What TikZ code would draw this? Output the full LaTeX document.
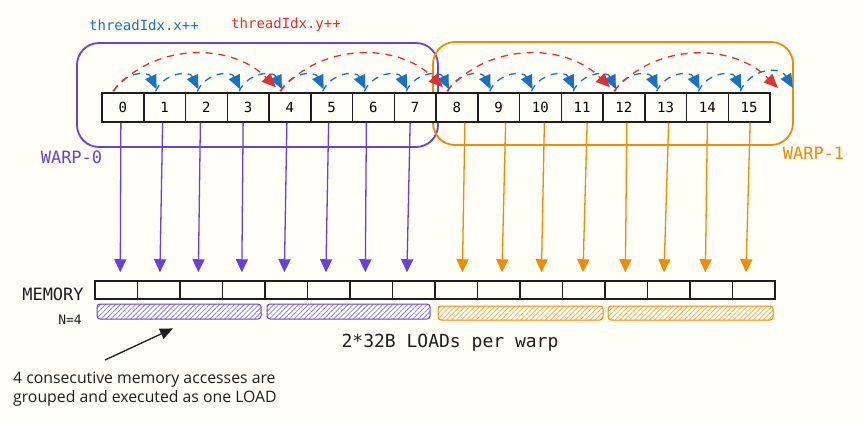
\documentclass[tikz,border=0pt]{standalone}
\usepackage{fontspec}
\setmonofont{DejaVu Sans Mono}
\newfontfamily\notefont{Open Sans}
\usetikzlibrary{arrows.meta,patterns.meta,calc}

\definecolor{paper}{HTML}{FFFEF7}
\definecolor{violet}{HTML}{6741D9}
\definecolor{amber}{HTML}{F08C00}
\definecolor{xblue}{HTML}{1971C2}
\definecolor{yred}{HTML}{E03131}
\definecolor{ink}{HTML}{1E1E1E}

\tikzset{
  mono/.style={font=\ttfamily\fontsize{#1}{#1}\selectfont},
  thread/.style={draw=ink, line width=1.5pt, fill=paper, minimum width=41.75pt,
    minimum height=29pt, inner sep=0pt, mono=14},
  cell/.style={draw=ink, line width=1.5pt, fill=paper, minimum width=42.5pt,
    minimum height=18pt, inner sep=0pt},
  warpframe/.style={draw=#1, line width=1.8pt, rounded corners=22pt},
  loadbar/.style={draw=#1, line width=1pt, rounded corners=3pt, inner sep=0pt,
    pattern={Lines[angle=45,distance=3.5pt,line width=0.8pt]}, pattern color=#1!70},
  hop/.style={draw=#1, line width=1.3pt, dash pattern=on 7pt off 6pt,
    -{Triangle[length=14pt,width=12pt,fill=#1]}},
  fetch/.style={draw=#1, line width=1.3pt, shorten >=8pt,
    -{Triangle[length=13pt,width=12pt,fill=#1]}},
}

\begin{document}
\begin{tikzpicture}[x=1pt,y=1pt]
\fill[paper] (0,0) rectangle (865,-425);
\useasboundingbox (0,0) rectangle (865,-425);

% warp frames
\draw[warpframe=violet] (77,-43) rectangle (438,-147);
\draw[warpframe=amber] (433,-42) rectangle (793,-145);

% thread row
\foreach \i in {0,...,15}
  \node[thread] (t\i) at ({122.875+41.75*\i},-107.5) {\i};
\coordinate (past) at ({122.875+41.75*16},-93);

% memory row
\foreach \i in {0,...,15}
  \node[cell] (m\i) at ({116.25+42.5*\i},-290) {};

% threadIdx.x++ hops
\foreach \i [evaluate=\i as \j using int(\i+1)] in {0,...,14}
  \draw[hop=xblue] ([xshift=-9pt,yshift=1pt]t\i.north)
    to[out=65,in=115,looseness=1.25] ([xshift=-8pt,yshift=3pt]t\j.north);
\draw[hop=xblue] ([xshift=-9pt,yshift=1pt]t15.north)
  to[out=65,in=120,looseness=1.25] ([xshift=2pt,yshift=5pt]past);

% threadIdx.y++ hops
\foreach \i/\j in {0/4,4/8,8/12}
  \draw[hop=yred] ([xshift=-10pt,yshift=1pt]t\i.north)
    to[out=50,in=135,looseness=1.0] ([xshift=-14pt,yshift=5pt]t\j.north);
\draw[hop=yred] ([xshift=-10pt,yshift=1pt]t12.north)
  to[out=50,in=135,looseness=1.0] ([xshift=-13pt,yshift=5pt]past);

% thread -> memory accesses
\foreach \i/\a/\b in {0/-2/4,1/-2/1,2/-6/-3,3/-5/-2,4/-3/-2,5/-3/-3,6/-7/-6,7/-5/-7}
  \draw[fetch=violet] ([xshift=\a pt]t\i.south) -- ([xshift=\b pt]m\i.north);
\foreach \i/\a/\b in {8/8/6,9/7/3,10/4/0,11/5/-1,12/3/-1,13/3/-5,14/0/-6,15/1/-8}
  \draw[fetch=amber] ([xshift=\a pt]t\i.south) -- ([xshift=\b pt]m\i.north);

% grouped loads
\node[loadbar=violet, minimum width=164pt, minimum height=15pt] (load0) at (179,-311.5) {};
\node[loadbar=violet, minimum width=163pt, minimum height=15pt] (load1) at (348.5,-311.5) {};
\node[loadbar=amber, minimum width=165pt, minimum height=14pt] (load2) at (520.5,-313) {};
\node[loadbar=amber, minimum width=165pt, minimum height=14pt] (load3) at (690.5,-313) {};

% labels
\node[mono=14, text=xblue] (xlabel) at (144,-25) {threadIdx.x++};
\node[mono=14, text=yred] (ylabel) at (286,-25) {threadIdx.y++};
\node[mono=17, text=violet] (w0) at (71.5,-157) {WARP-0};
\node[mono=17, text=amber] (w1) at (813.5,-153) {WARP-1};
\node[mono=17, text=ink] (mem) at (53,-294) {MEMORY};
\node[mono=13, text=ink] (n4) at (70,-320) {N=4};
\node[mono=18, text=ink] (loads) at (450,-343) {2*32B LOADs per warp};

% note
\node[anchor=west, align=left, text=ink, inner sep=0pt,
  font=\notefont\fontsize{15.8}{18.5}\selectfont] (note) at (13,-389)
  {4 consecutive memory accesses are\\grouped and executed as one LOAD};
\coordinate (tail) at (105,-360);
\draw[draw=ink, line width=1.3pt, -{Triangle[length=13pt,width=11pt]}]
  (tail) -- ([xshift=-6pt,yshift=-9pt]load0.south);
\end{tikzpicture}
\end{document}
